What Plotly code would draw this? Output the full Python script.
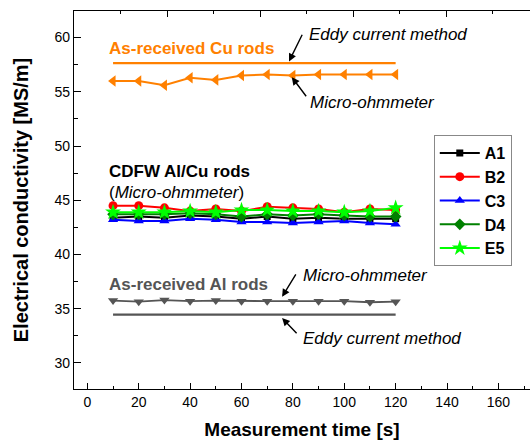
import plotly.graph_objects as go

# ---------------- data ----------------
time_s = [10, 20, 30, 40, 50, 60, 70, 80, 90, 100, 110, 120]
cu_micro = [56.0, 56.0, 55.6, 56.3, 56.1, 56.5, 56.6, 56.5, 56.6, 56.6, 56.6, 56.6]
al_micro = [35.75, 35.65, 35.8, 35.7, 35.75, 35.7, 35.7, 35.7, 35.7, 35.7, 35.6, 35.65]
eddy_x = [10, 120]
cu_eddy = [57.65, 57.65]
al_eddy = [34.45, 34.45]
A1 = [43.4, 43.5, 43.4, 43.6, 43.5, 43.3, 43.5, 43.3, 43.4, 43.3, 43.3, 43.3]
B2 = [44.5, 44.5, 44.3, 44.0, 44.2, 44.0, 44.4, 44.3, 44.2, 43.9, 44.2, 44.1]
C3 = [43.2, 43.1, 43.1, 43.3, 43.2, 43.0, 43.0, 42.9, 43.0, 43.1, 42.9, 42.8]
D4 = [43.7, 43.7, 43.7, 43.8, 43.7, 43.5, 43.7, 43.6, 43.7, 43.6, 43.5, 43.5]
E5 = [43.9, 43.9, 43.9, 44.0, 43.9, 44.1, 44.1, 44.0, 44.0, 43.9, 44.0, 44.3]
x_ticks = [0, 20, 40, 60, 80, 100, 120, 140, 160]
y_ticks = [30, 35, 40, 45, 50, 55, 60]

ORANGE = "#FF8000"
GRAY = "#555555"
FONT = "Arial, Liberation Sans, sans-serif"

fig = go.Figure()

# Cu
fig.add_trace(go.Scatter(x=eddy_x, y=cu_eddy, mode="lines", line=dict(color=ORANGE, width=2.2),
                         showlegend=False, hoverinfo="skip"))
fig.add_trace(go.Scatter(x=time_s, y=cu_micro, mode="lines+markers", line=dict(color=ORANGE, width=2),
                         marker=dict(symbol="triangle-left", size=10, color=ORANGE),
                         showlegend=False))
# Al
fig.add_trace(go.Scatter(x=eddy_x, y=al_eddy, mode="lines", line=dict(color=GRAY, width=2.2),
                         showlegend=False, hoverinfo="skip"))
fig.add_trace(go.Scatter(x=time_s, y=al_micro, mode="lines+markers", line=dict(color=GRAY, width=1.8),
                         marker=dict(symbol="triangle-down", size=9, color=GRAY),
                         showlegend=False))

# CDFW series
series = [
    ("A1", A1, "#000000", "square", 7),
    ("B2", B2, "#FF0000", "circle", 9),
    ("C3", C3, "#0000FF", "triangle-up", 9),
    ("D4", D4, "#008000", "diamond", 9),
    ("E5", E5, "#00FF00", "star", 12),
]
for name, vals, col, sym, sz in series:
    fig.add_trace(go.Scatter(x=time_s, y=vals, mode="lines+markers", name="<b>" + name + "</b>",
                             line=dict(color=col, width=2),
                             marker=dict(symbol=sym, size=sz, color=col)))

# invisible trace for top axis
fig.add_trace(go.Scatter(x=[0], y=[45], xaxis="x2", mode="markers",
                         marker=dict(opacity=0), showlegend=False, hoverinfo="skip"))

# ---------------- annotations ----------------
def txt(x, y, text, size=17, color="black", bold=False, italic=False):
    if italic:
        text = "<i>" + text + "</i>"
    if bold:
        text = "<b>" + text + "</b>"
    fig.add_annotation(x=x, y=y, xref="x", yref="y", text=text, showarrow=False,
                       xanchor="left", yanchor="middle",
                       font=dict(family=FONT, size=size, color=color))

def arrow(hx, hy, tx, ty):
    fig.add_annotation(x=hx, y=hy, ax=tx, ay=ty, xref="x", yref="y", axref="x", ayref="y",
                       text="", showarrow=True, arrowhead=2, arrowsize=1.1, arrowwidth=1.4,
                       arrowcolor="black")

txt(7.8, 58.96, "As-received Cu rods", size=17, color=ORANGE, bold=True)
txt(85.3, 60.25, "Eddy current method", size=17, italic=True)
arrow(78.5, 57.8, 83.9, 60.4)
txt(86.0, 53.98, "Micro-ohmmeter", size=17, italic=True)
arrow(79.6, 56.35, 85.6, 54.45)

txt(7.8, 47.69, "CDFW Al/Cu rods", size=17, bold=True)
txt(7.8, 45.75, "(<i>Micro-ohmmeter</i>)", size=17)

txt(7.8, 37.28, "As-received Al rods", size=17, color=GRAY, bold=True)
txt(83.0, 38.1, "Micro-ohmmeter", size=17, italic=True)
arrow(75.8, 36.1, 81.5, 38.3)
txt(83.0, 32.3, "Eddy current method", size=17, italic=True)
arrow(75.8, 34.15, 82.0, 32.6)

# ---------------- layout ----------------
tickfont = dict(family=FONT, size=14, color="black")
fig.update_layout(
    width=530, height=443,
    margin=dict(l=74, r=0, t=11, b=54),
    paper_bgcolor="white", plot_bgcolor="white",
    font=dict(family=FONT, color="black"),
    xaxis=dict(range=[-5.2, 172.3], tickvals=x_ticks, ticks="inside", ticklen=6, tickwidth=1,
               tickcolor="black", showline=True, linecolor="black", linewidth=1.2,
               showgrid=False, zeroline=False, tickfont=tickfont,
               tickprefix="<b>", ticksuffix="</b>",
               minor=dict(dtick=10, tick0=0, ticks="inside", ticklen=3, tickcolor="black"),
               title=dict(text="<b>Measurement time [s]</b>", font=dict(family=FONT, size=19),
                          standoff=13)),
    xaxis2=dict(overlaying="x", side="top", range=[0, 9.806], tickvals=[2, 4, 6, 8],
                showticklabels=False, ticks="inside", ticklen=6, tickcolor="black",
                showline=True, linecolor="black", linewidth=1.2, showgrid=False, zeroline=False,
                minor=dict(tickvals=[1, 3, 5, 7, 9], ticks="inside", ticklen=3, tickcolor="black")),
    yaxis=dict(range=[27.6, 62.45], tickvals=y_ticks, ticks="inside", ticklen=7, tickwidth=1,
               tickcolor="black", showline=True, linecolor="black", linewidth=1.2,
               showgrid=False, zeroline=False, tickfont=tickfont,
               tickprefix="<b>", ticksuffix="</b>",
               minor=dict(dtick=2.5, tick0=0, ticks="inside", ticklen=4, tickcolor="black"),
               title=dict(text="<b>Electrical conductivity [MS/m]</b>", font=dict(family=FONT, size=20),
                          standoff=20)),
    legend=dict(x=0.789, y=0.672, xanchor="left", yanchor="top",
                bordercolor="#888888", borderwidth=1, bgcolor="white",
                font=dict(family=FONT, size=16, color="black"),
                tracegroupgap=0, itemwidth=40),
    showlegend=True,
)

fig.write_html("out.html")
